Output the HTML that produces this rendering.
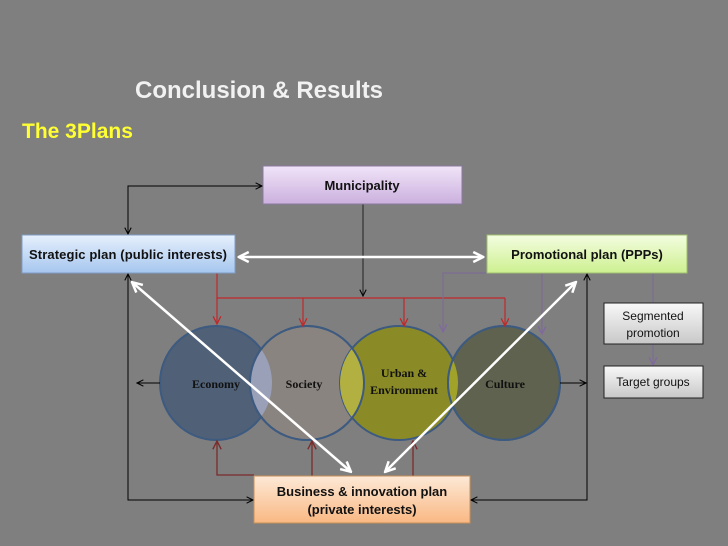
<!DOCTYPE html>
<html><head><meta charset="utf-8"><style>
body{margin:0;background:#7f7f7f;}
svg{display:block}
text{font-family:"Liberation Sans",sans-serif;}
</style></head><body>
<svg width="728" height="546" viewBox="0 0 728 546" xmlns="http://www.w3.org/2000/svg">
<defs>
<linearGradient id="gm" x1="0" y1="0" x2="0" y2="1"><stop offset="0" stop-color="#f0e4f8"/><stop offset="1" stop-color="#cbb0de"/></linearGradient>
<linearGradient id="gs" x1="0" y1="0" x2="0" y2="1"><stop offset="0" stop-color="#e6f0fc"/><stop offset="1" stop-color="#a6c6ef"/></linearGradient>
<linearGradient id="gp" x1="0" y1="0" x2="0" y2="1"><stop offset="0" stop-color="#f4fde0"/><stop offset="1" stop-color="#cdf090"/></linearGradient>
<linearGradient id="gb" x1="0" y1="0" x2="0" y2="1"><stop offset="0" stop-color="#fde9d6"/><stop offset="1" stop-color="#f9b883"/></linearGradient>
<linearGradient id="gg" x1="0" y1="0" x2="0" y2="1"><stop offset="0" stop-color="#f8f8f8"/><stop offset="1" stop-color="#c8c8c8"/></linearGradient>
<clipPath id="cE"><ellipse cx="216" cy="383" rx="56" ry="57"/></clipPath>
<clipPath id="cU"><ellipse cx="399" cy="383" rx="59" ry="57"/></clipPath>
<marker id="ak" viewBox="0 0 10 10" refX="9" refY="5" markerWidth="8" markerHeight="8" orient="auto-start-reverse"><path d="M1,1 L9,5 L1,9" fill="none" stroke="#000" stroke-width="1.3"/></marker>
<marker id="ar" viewBox="0 0 10 10" refX="9" refY="5" markerWidth="8" markerHeight="8" orient="auto-start-reverse"><path d="M1,1 L9,5 L1,9" fill="none" stroke="#c0282a" stroke-width="1.3"/></marker>
<marker id="ap" viewBox="0 0 10 10" refX="9" refY="5" markerWidth="8" markerHeight="8" orient="auto-start-reverse"><path d="M1,1 L9,5 L1,9" fill="none" stroke="#8068a0" stroke-width="1.3"/></marker>
<marker id="ab" viewBox="0 0 10 10" refX="9" refY="5" markerWidth="8" markerHeight="8" orient="auto-start-reverse"><path d="M1,1 L9,5 L1,9" fill="none" stroke="#7a2a2a" stroke-width="1.3"/></marker>
<marker id="aw" viewBox="0 0 10 10" refX="8" refY="5" markerWidth="5" markerHeight="5" orient="auto-start-reverse"><path d="M1,1 L9,5 L1,9" fill="none" stroke="#fff" stroke-width="2"/></marker>
</defs>

<text x="135" y="98" font-size="24" font-weight="bold" fill="#f2f2f2">Conclusion &amp; Results</text>
<text x="22" y="138" font-size="21" font-weight="bold" fill="#ffff33">The 3Plans</text>

<!-- circles -->
<ellipse cx="216" cy="383" rx="56" ry="57" fill="#4f6077" stroke="#3d5a80" stroke-width="2"/>
<ellipse cx="307" cy="383" rx="57" ry="57" fill="#8a8480" stroke="#3d5a80" stroke-width="2"/>
<ellipse cx="307" cy="383" rx="57" ry="57" fill="#9aa0b8" clip-path="url(#cE)"/>
<ellipse cx="399" cy="383" rx="59" ry="57" fill="#8a8a26" stroke="#3d5a80" stroke-width="2"/>
<ellipse cx="307" cy="383" rx="57" ry="57" fill="#b2b040" clip-path="url(#cU)"/>
<ellipse cx="504" cy="383" rx="56" ry="57" fill="#5e624e" stroke="#3d5a80" stroke-width="2"/>
<ellipse cx="504" cy="383" rx="56" ry="57" fill="#a0a22a" clip-path="url(#cU)"/>
<ellipse cx="307" cy="383" rx="57" ry="57" fill="none" stroke="#3d5a80" stroke-width="2"/>
<ellipse cx="504" cy="383" rx="56" ry="57" fill="none" stroke="#3d5a80" stroke-width="2"/>
<text x="216" y="388" font-size="12" font-weight="bold" fill="#111" text-anchor="middle" style="font-family:'Liberation Serif',serif">Economy</text>
<text x="304" y="388" font-size="12" font-weight="bold" fill="#111" text-anchor="middle" style="font-family:'Liberation Serif',serif">Society</text>
<text x="404" y="377" font-size="12" font-weight="bold" fill="#111" text-anchor="middle" style="font-family:'Liberation Serif',serif">Urban &amp;</text>
<text x="404" y="394" font-size="12" font-weight="bold" fill="#111" text-anchor="middle" style="font-family:'Liberation Serif',serif">Environment</text>
<text x="505" y="388" font-size="12" font-weight="bold" fill="#111" text-anchor="middle" style="font-family:'Liberation Serif',serif">Culture</text>

<!-- black lines -->
<g fill="none" stroke="#000" stroke-width="1">
<path d="M128,234 V186 H262" marker-start="url(#ak)" marker-end="url(#ak)"/>
<path d="M363,204 V296" marker-end="url(#ak)" stroke="#222"/>
<path d="M128,274 V500 H253" marker-start="url(#ak)" marker-end="url(#ak)"/>
<path d="M587,274 V500 H471" marker-start="url(#ak)" marker-end="url(#ak)"/>
<path d="M160,383 H137" marker-end="url(#ak)"/>
<path d="M560,383 H586" marker-end="url(#ak)"/>
</g>
<!-- red -->
<g fill="none" stroke="#c0282a" stroke-width="1.2">
<path d="M217,273 V298 H505"/>
<path d="M217,298 V324" marker-end="url(#ar)"/>
<path d="M303,298 V326" marker-end="url(#ar)"/>
<path d="M404,298 V326" marker-end="url(#ar)"/>
<path d="M505,298 V326" marker-end="url(#ar)"/>
</g>
<!-- purple -->
<g fill="none" stroke="#7c6c94" stroke-width="1.2">
<path d="M487,273 H443 V332" marker-end="url(#ap)"/>
<path d="M542,273 V334" marker-end="url(#ap)"/>
<path d="M653,273 V303"/>
<path d="M653,344 V365" marker-end="url(#ap)"/>
</g>
<!-- brown -->
<g fill="none" stroke="#7a2a2a" stroke-width="1.3">
<path d="M254,475 H217 V441" marker-end="url(#ab)"/>
<path d="M312,476 V441" marker-end="url(#ab)"/>
<path d="M413,476 V441" marker-end="url(#ab)"/>
</g>

<!-- boxes -->
<rect x="263" y="166" width="199" height="38" fill="url(#gm)" stroke="#8c7aa0" stroke-width="1"/>
<text x="362" y="190" font-size="13" font-weight="bold" text-anchor="middle" fill="#111">Municipality</text>
<rect x="22" y="235" width="213" height="38" fill="url(#gs)" stroke="#7f9cc4" stroke-width="1"/>
<text x="128" y="259" font-size="13" font-weight="bold" text-anchor="middle" fill="#111" textLength="198">Strategic plan (public interests)</text>
<rect x="487" y="235" width="200" height="38" fill="url(#gp)" stroke="#a0be70" stroke-width="1"/>
<text x="587" y="259" font-size="13" font-weight="bold" text-anchor="middle" fill="#111">Promotional plan (PPPs)</text>
<rect x="604" y="303" width="99" height="41" fill="url(#gg)" stroke="#222" stroke-width="1"/>
<text x="653" y="320" font-size="12" text-anchor="middle" fill="#111">Segmented</text>
<text x="653" y="337" font-size="12" text-anchor="middle" fill="#111">promotion</text>
<rect x="604" y="366" width="99" height="32" fill="url(#gg)" stroke="#222" stroke-width="1"/>
<text x="653" y="386" font-size="12" text-anchor="middle" fill="#111">Target groups</text>
<rect x="254" y="476" width="216" height="47" fill="url(#gb)" stroke="#c8905a" stroke-width="1"/>
<text x="362" y="496" font-size="13" font-weight="bold" text-anchor="middle" fill="#111">Business &amp; innovation  plan</text>
<text x="362" y="514" font-size="13" font-weight="bold" text-anchor="middle" fill="#111">(private interests)</text>

<!-- white arrows -->
<g fill="none" stroke="#fff" stroke-width="2.5">
<path d="M240,257 H482" marker-start="url(#aw)" marker-end="url(#aw)"/>
<path d="M133,283 L350,471" marker-start="url(#aw)" marker-end="url(#aw)"/>
<path d="M575,283 L386,471" marker-start="url(#aw)" marker-end="url(#aw)"/>
</g>
</svg>
</body></html>
